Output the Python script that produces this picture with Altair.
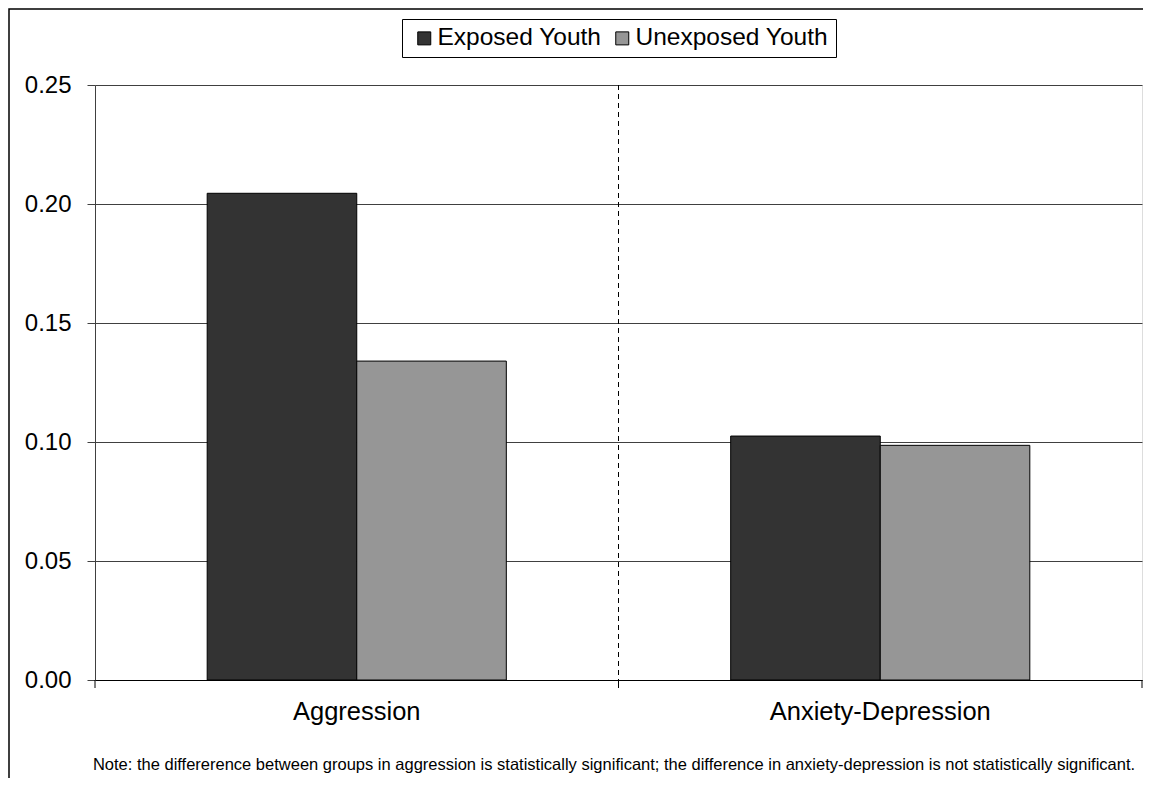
import altair as alt
import pandas as pd

categories = ["Aggression", "Anxiety-Depression"]
groups = ["Exposed Youth", "Unexposed Youth"]
exposed_values = [0.2045, 0.1025]
unexposed_values = [0.134, 0.0986]
y_ticks = [0.0, 0.05, 0.10, 0.15, 0.20, 0.25]
group_colors = ["#333333", "#969696"]
note_text = ("Note: the differerence between groups in aggression is statistically significant; "
             "the difference in anxiety-depression is not statistically significant.")

rows = []
for c, e, u in zip(categories, exposed_values, unexposed_values):
    rows.append({"category": c, "group": groups[0], "value": e})
    rows.append({"category": c, "group": groups[1], "value": u})
df = pd.DataFrame(rows)

W, H = 1047, 595
FONT = "Liberation Sans"

x_scale = alt.Scale(domain=categories, paddingInner=0, paddingOuter=0)

bars = alt.Chart(df).mark_bar(stroke="black", strokeWidth=1).encode(
    x=alt.X("category:N", scale=x_scale, sort=categories,
            axis=alt.Axis(title=None, labelAngle=0, ticks=False, domain=True,
                          domainColor="black", labelFontSize=25.5, labelFont=FONT,
                          labelColor="black", labelPadding=19, labelLimit=0)),
    xOffset=alt.XOffset("group:N", sort=groups,
                        scale=alt.Scale(paddingInner=0, paddingOuter=0.75)),
    y=alt.Y("value:Q", scale=alt.Scale(domain=[0, 0.25], nice=False),
            axis=alt.Axis(title=None, values=y_ticks, format=".2f", grid=True,
                          gridColor="#404040", gridWidth=1, tickSize=8,
                          tickColor="#404040", domainColor="#404040",
                          labelFontSize=24, labelFont=FONT, labelColor="black",
                          labelPadding=16, labelLimit=0)),
    color=alt.Color("group:N", sort=groups,
                    scale=alt.Scale(domain=groups, range=group_colors),
                    legend=alt.Legend(title=None, orient="none", legendX=307, legendY=-66,
                                      direction="horizontal", strokeColor="black",
                                      fillColor="white", padding=7, labelFontSize=24.5,
                                      labelFont=FONT, labelColor="black", labelLimit=0,
                                      symbolType="square", symbolSize=169,
                                      symbolStrokeColor="black", symbolStrokeWidth=1,
                                      symbolOffset=3, labelOffset=1, columnPadding=5)),
)

sep_df = pd.DataFrame({"category": [categories[1]]})
separator = alt.Chart(sep_df).mark_rule(strokeDash=[5, 4], color="black", strokeWidth=1).encode(
    x=alt.X("category:N", bandPosition=0, scale=x_scale, sort=categories),
    y=alt.value(0), y2=alt.value(H),
)

tick_start = alt.Chart(pd.DataFrame({"category": categories})).mark_rule(color="black").encode(
    x=alt.X("category:N", bandPosition=0, scale=x_scale, sort=categories),
    y=alt.value(H), y2=alt.value(H + 8),
)
tick_end = alt.Chart(pd.DataFrame({"category": [categories[-1]]})).mark_rule(color="black").encode(
    x=alt.X("category:N", bandPosition=1, scale=x_scale, sort=categories),
    y=alt.value(H), y2=alt.value(H + 8),
)

note = alt.Chart(pd.DataFrame({"t": [note_text]})).mark_text(
    fontSize=16.5, font=FONT, color="black", align="center", baseline="middle"
).encode(text="t:N", x=alt.value(519), y=alt.value(H + 85))

frame = alt.Chart(pd.DataFrame({"a": [0]})).mark_rect(
    fill=None, stroke="black", strokeWidth=1.5
).encode(x=alt.value(-86), x2=alt.value(W + 40), y=alt.value(-76), y2=alt.value(H + 140))

chart = alt.layer(frame, bars, separator, tick_start, tick_end, note).resolve_scale(
    x="shared"
).properties(
    width=W, height=H,
    autosize=alt.AutoSizeParams(type="none"),
    padding={"left": 87, "top": 77, "right": 1, "bottom": 98},
).configure_view(stroke="#808080", strokeWidth=1).configure(background="white")

chart.save("out.html", embed_options={"renderer": "svg", "actions": False})
